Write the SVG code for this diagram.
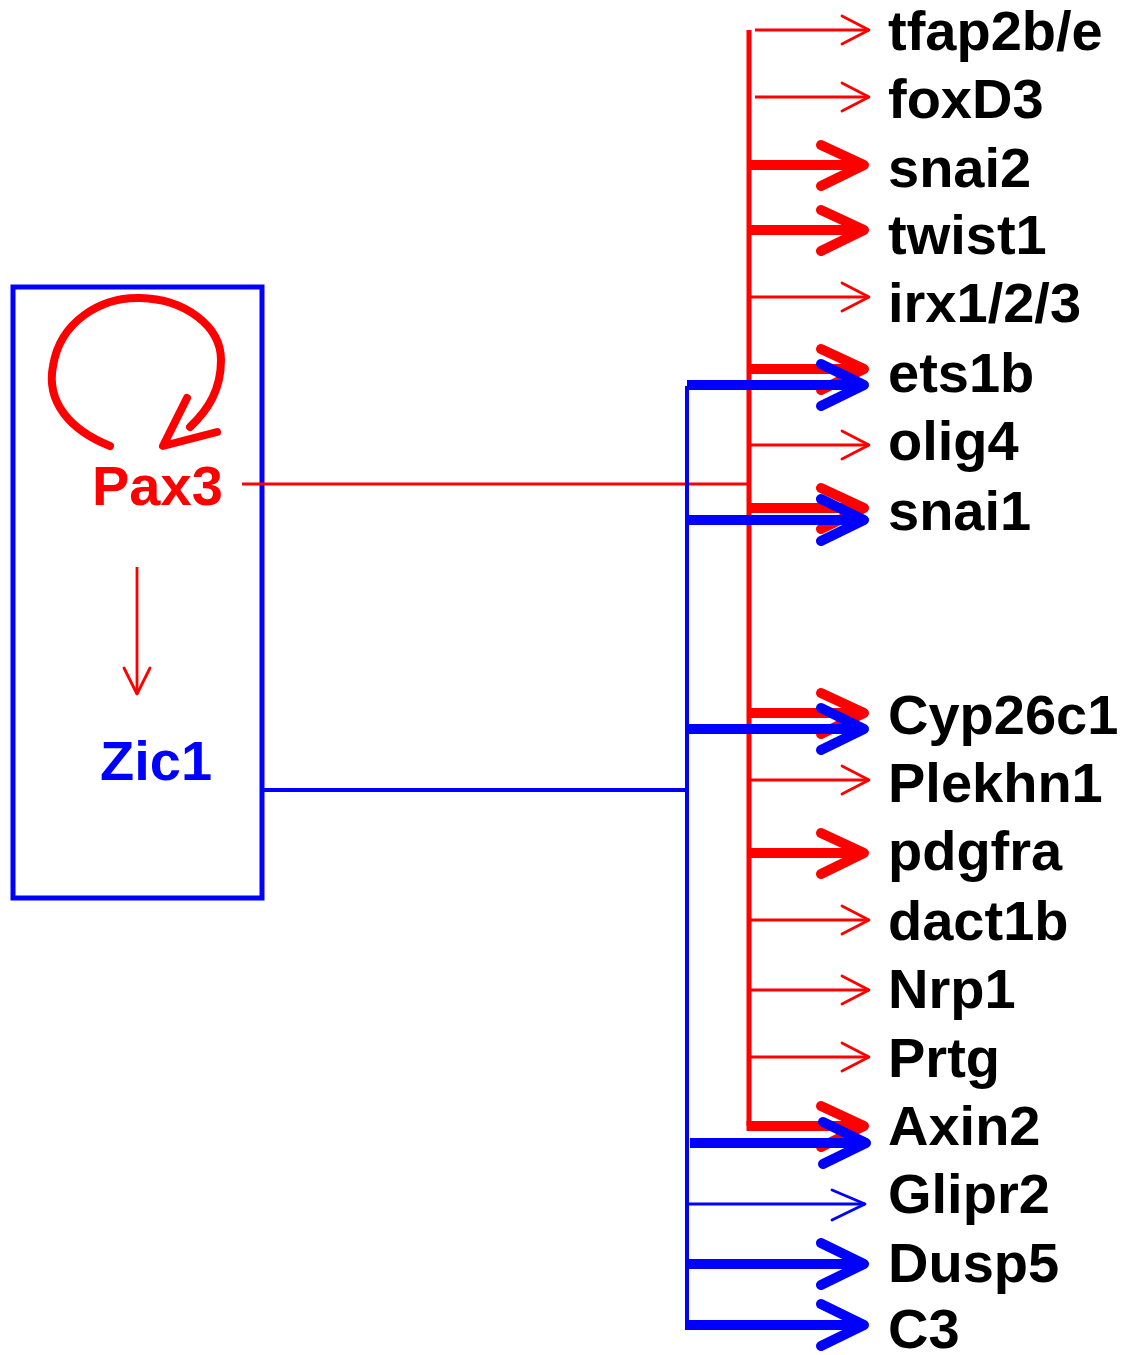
<svg xmlns="http://www.w3.org/2000/svg" width="1129" height="1355" viewBox="0 0 1129 1355">
<style>
.lbl{font-family:"Liberation Sans",Arial,sans-serif;font-weight:bold;font-size:56px;fill:#000}
.r{stroke:#ff0000;fill:none;stroke-linecap:round;stroke-linejoin:round}
.b{stroke:#0000ff;fill:none;stroke-linecap:round;stroke-linejoin:round}
.thin{stroke-width:2.8}
.thick{stroke-width:10}
.line{stroke-linecap:butt}
</style>
<rect width="1129" height="1355" fill="#fff"/>
<g id="box">
<rect x="13" y="287" width="249" height="611" fill="none" stroke="#0000ff" stroke-width="5"/>
</g>
<g id="Pax3">
<text x="92" y="505" class="lbl" style="fill:#ff0000">Pax3</text>
</g>
<g id="Zic1">
<text x="100" y="780" class="lbl" style="fill:#0000ff">Zic1</text>
</g>
<g id="targets">
<text class="lbl" x="888" y="50">tfap2b/e</text>
<text class="lbl" x="888" y="118">foxD3</text>
<text class="lbl" x="888" y="187">snai2</text>
<text class="lbl" x="888" y="254">twist1</text>
<text class="lbl" x="888" y="322">irx1/2/3</text>
<text class="lbl" x="888" y="392">ets1b</text>
<text class="lbl" x="888" y="460">olig4</text>
<text class="lbl" x="888" y="530">snai1</text>
<text class="lbl" x="888" y="734">Cyp26c1</text>
<text class="lbl" x="888" y="802">Plekhn1</text>
<text class="lbl" x="888" y="870">pdgfra</text>
<text class="lbl" x="888" y="940">dact1b</text>
<text class="lbl" x="888" y="1008">Nrp1</text>
<text class="lbl" x="888" y="1077">Prtg</text>
<text class="lbl" x="888" y="1145">Axin2</text>
<text class="lbl" x="888" y="1213">Glipr2</text>
<text class="lbl" x="888" y="1282">Dusp5</text>
<text class="lbl" x="888" y="1348">C3</text>
</g>
<g id="connectors">
<!-- self loop -->
<path class="r" stroke-width="8" d="M110 446 C70 430 46 402 53 366 C60 322 100 297 140 298 C185 299 221 326 221 360 C221 390 208 410 190 427"/>
<polyline class="r" stroke-width="8" points="187,398 163,446 217,432"/>
<!-- Pax3 -> Zic1 -->
<line class="r thin line" x1="137" y1="567" x2="137" y2="694"/>
<polyline class="r thin" points="124,668 137,694 150,668"/>
<!-- Pax3 line & trunk -->
<line class="r line" stroke-width="3" x1="242" y1="484" x2="749" y2="484"/>
<line class="r line" stroke-width="5" x1="749" y1="30" x2="749" y2="1126"/>
<!-- red thin -->
<line class="r thin line" x1="755" y1="30" x2="869" y2="30"/>
<polyline class="r thin" points="842,16 869,30 842,44"/>
<line class="r thin line" x1="755" y1="97" x2="869" y2="97"/>
<polyline class="r thin" points="842,83 869,97 842,111"/>
<line class="r thin line" x1="751" y1="297" x2="869" y2="297"/>
<polyline class="r thin" points="842,283 869,297 842,311"/>
<line class="r thin line" x1="751" y1="445" x2="869" y2="445"/>
<polyline class="r thin" points="842,431 869,445 842,459"/>
<line class="r thin line" x1="751" y1="780" x2="869" y2="780"/>
<polyline class="r thin" points="842,766 869,780 842,794"/>
<line class="r thin line" x1="751" y1="920" x2="869" y2="920"/>
<polyline class="r thin" points="842,906 869,920 842,934"/>
<line class="r thin line" x1="751" y1="990" x2="869" y2="990"/>
<polyline class="r thin" points="842,976 869,990 842,1004"/>
<line class="r thin line" x1="751" y1="1057" x2="869" y2="1057"/>
<polyline class="r thin" points="842,1043 869,1057 842,1071"/>
<!-- red thick -->
<line class="r thick line" x1="749" y1="165" x2="862" y2="165"/>
<polyline class="r thick" points="821,145 864,165 821,186"/>
<line class="r thick line" x1="749" y1="230" x2="862" y2="230"/>
<polyline class="r thick" points="821,210 864,230 821,251"/>
<line class="r thick line" x1="749" y1="369" x2="862" y2="369"/>
<polyline class="r thick" points="821,349 864,369 821,390"/>
<line class="r thick line" x1="749" y1="508" x2="862" y2="508"/>
<polyline class="r thick" points="821,488 864,508 821,529"/>
<line class="r thick line" x1="749" y1="713" x2="862" y2="713"/>
<polyline class="r thick" points="821,693 864,713 821,734"/>
<line class="r thick line" x1="749" y1="853" x2="862" y2="853"/>
<polyline class="r thick" points="821,833 864,853 821,874"/>
<line class="r thick line" x1="746.5" y1="1126" x2="862" y2="1126"/>
<polyline class="r thick" points="821,1106 864,1126 821,1147"/>
<!-- blue -->
<line class="b line" stroke-width="4" x1="262" y1="790" x2="687" y2="790"/>
<line class="b line" stroke-width="4" x1="687" y1="386" x2="687" y2="1325"/>
<line class="b thick line" x1="687" y1="385" x2="862" y2="385"/>
<polyline class="b thick" points="821,364 864,385 821,406"/>
<line class="b thick line" x1="687" y1="520" x2="862" y2="520"/>
<polyline class="b thick" points="821,499 864,520 821,541"/>
<line class="b thick line" x1="687" y1="729" x2="862" y2="729"/>
<polyline class="b thick" points="821,708 864,729 821,750"/>
<line class="b thick line" x1="690" y1="1143" x2="864" y2="1143"/>
<polyline class="b thick" points="823,1122 866,1143 823,1164"/>
<line class="b thin line" x1="687" y1="1204" x2="865" y2="1204"/>
<polyline class="b thin" points="832,1190 865,1204 832,1220"/>
<line class="b thick line" x1="687" y1="1264" x2="862" y2="1264"/>
<polyline class="b thick" points="821,1243 864,1264 821,1285"/>
<line class="b thick line" x1="685" y1="1325" x2="862" y2="1325"/>
<polyline class="b thick" points="821,1304 864,1325 821,1346"/>
</g>
</svg>
